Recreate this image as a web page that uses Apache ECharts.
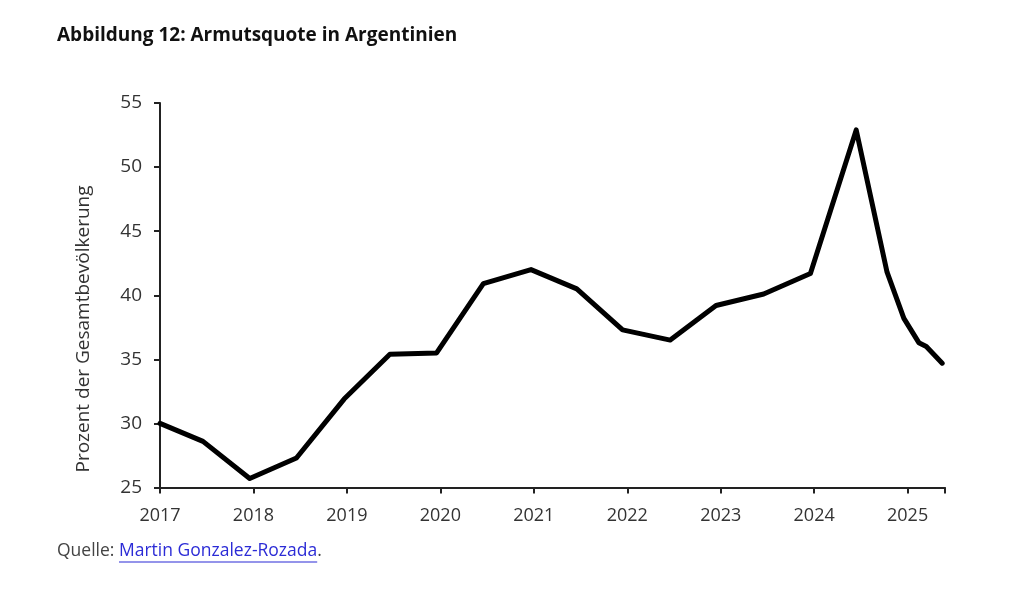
<!DOCTYPE html>
<html><head><meta charset="utf-8">
<script src="https://cdn.jsdelivr.net/npm/echarts@6/dist/echarts.min.js"></script>
<style>html,body{margin:0;padding:0;background:#fff}#c{width:1031px;height:602px}</style>
</head><body><div id="c"></div>
<script>
const titleText = 'Abbildung 12: Armutsquote in Argentinien';
const yAxisTitle = 'Prozent der Gesamtbevölkerung';
const sourcePrefix = 'Quelle: ';
const sourceLink = 'Martin Gonzalez-Rozada';
const dates = [2017.0, 2017.46, 2017.96, 2018.46, 2018.97, 2019.46, 2019.96, 2020.46, 2020.97, 2021.46, 2021.95, 2022.46, 2022.95, 2023.46, 2023.96, 2024.45, 2024.78, 2024.96, 2025.12, 2025.2, 2025.37];
const poverty = [30.0, 28.6, 25.7, 27.3, 31.9, 35.4, 35.5, 40.9, 42.0, 40.5, 37.3, 36.5, 39.2, 40.1, 41.7, 52.9, 41.8, 38.2, 36.3, 36.0, 34.7];

const chart = echarts.init(document.getElementById('c'));
const font = '"Open Sans", "Noto Sans", sans-serif';
const srcFont = '17.5px ' + font;
const ctx = document.createElement('canvas').getContext('2d');
ctx.font = srcFont;
const prefixW = ctx.measureText(sourcePrefix).width;
const linkW = ctx.measureText(sourceLink).width;
const srcLeft = 57, srcTop = 542;
chart.setOption({
  animation: false,
  backgroundColor: '#fff',
  grid: {left: 160, top: 103, right: 86, bottom: 114.5},
  xAxis: {
    type: 'value', min: 2017, max: 2025.4, interval: 1,
    axisLine: {lineStyle: {color: '#222', width: 2}},
    axisTick: {show: true, inside: false, length: 6, lineStyle: {color: '#222', width: 2}},
    axisLabel: {color: '#333', fontSize: 18, fontFamily: font, margin: 19,
      formatter: v => (Number.isInteger(v) ? String(v) : '')},
    splitLine: {show: false}
  },
  yAxis: {
    type: 'value', min: 25, max: 55, interval: 5,
    axisLine: {show: true, lineStyle: {color: '#222', width: 2}},
    axisTick: {show: true, inside: false, length: 6, lineStyle: {color: '#222', width: 2}},
    axisLabel: {color: '#333', fontSize: 19, fontFamily: font, margin: 18},
    splitLine: {show: false}
  },
  series: [{
    type: 'line', data: dates.map((d, i) => [d, poverty[i]]),
    showSymbol: false, symbol: 'none',
    lineStyle: {color: '#000', width: 5, join: 'round', cap: 'round'}
  }],
  graphic: [
    {type: 'text', left: 57, top: 26, style: {text: titleText, font: 'bold 19px ' + font, fill: '#111'}},
    {type: 'text', x: 84, y: 329, rotation: Math.PI / 2,
      style: {text: yAxisTitle, font: '19px ' + font, fill: '#333', align: 'center', verticalAlign: 'middle'}},
    {type: 'text', left: srcLeft, top: srcTop, style: {
      text: '{a|' + sourcePrefix + '}{b|' + sourceLink + '}{a|.}',
      rich: {a: {font: srcFont, fill: '#444'}, b: {font: srcFont, fill: '#2b2bd6'}}}},
    {type: 'line', shape: {x1: srcLeft + prefixW, y1: srcTop + 20, x2: srcLeft + prefixW + linkW, y2: srcTop + 20},
      style: {stroke: '#2b2bd6', lineWidth: 1.2}}
  ]
});
</script></body></html>
